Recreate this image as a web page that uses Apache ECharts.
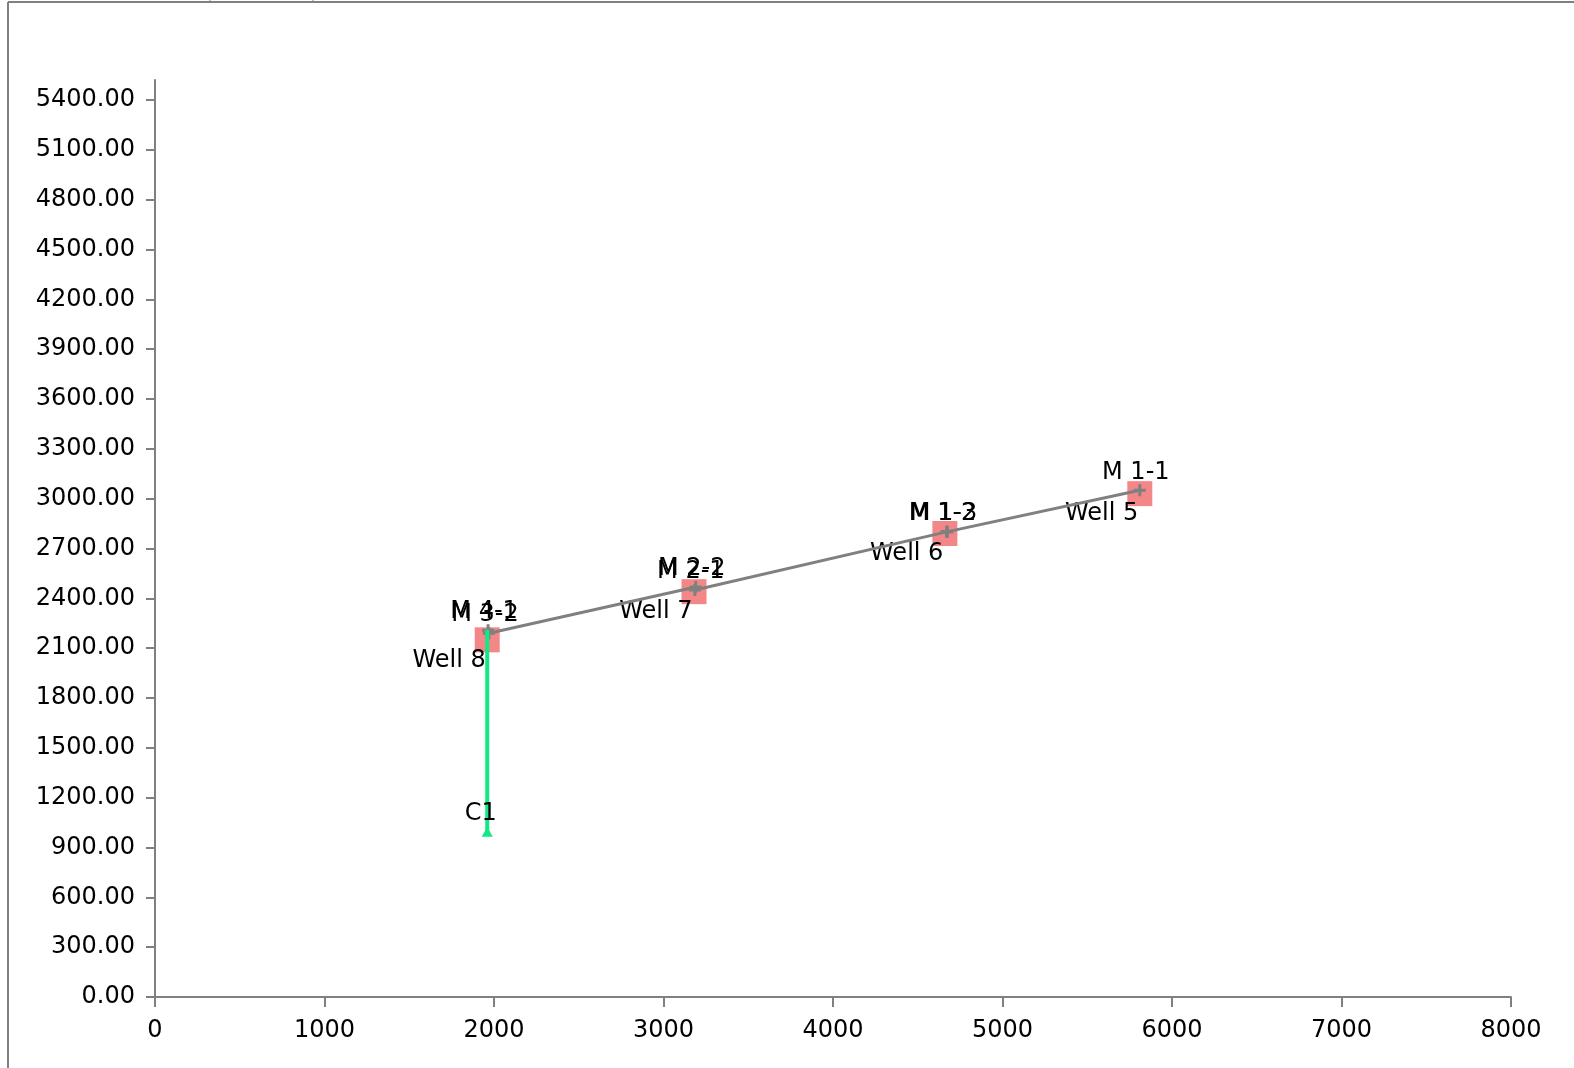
<!DOCTYPE html>
<html>
<head>
<meta charset="utf-8">
<title>Well layout</title>
<script src="https://cdn.jsdelivr.net/npm/echarts@6/dist/echarts.min.js"></script>
<style>
  html, body { margin: 0; padding: 0; background: #ffffff; }
  #chart { width: 1574px; height: 1068px; }
</style>
</head>
<body>
<div id="chart"></div>
<script>
// Wells (square markers)
const wellNames = ['Well 5', 'Well 6', 'Well 7', 'Well 8'];
const wellX = [5810, 4660, 3180, 1960];
const wellY = [3030, 2790, 2440, 2150];

// Pipeline nodes (gray line with cross markers)
const pipeNames = ['M 1-1', 'M 1-2', 'M 1-3', 'M 2-1', 'M 2-2', 'M 3-2', 'M 4-1'];
const pipeX = [5810, 4670, 4675, 3185, 3190, 1970, 1965];
const pipeY = [3050, 2800, 2800, 2450, 2468, 2190, 2208];

// Connector C1 (green line ending in a triangle)
const c1Names = ['C1', ''];
const c1X = [1960, 1960];
const c1Y = [995, 2210];

// Axis ticks
const xTicks = [0, 1000, 2000, 3000, 4000, 5000, 6000, 7000, 8000];
const yTicks = [0, 300, 600, 900, 1200, 1500, 1800, 2100, 2400, 2700, 3000,
                3300, 3600, 3900, 4200, 4500, 4800, 5100, 5400];

const FONT = 'DejaVu Sans';
const AXIS_GRAY = '#808080';

const chart = echarts.init(document.getElementById('chart'), null, { renderer: 'canvas' });

const plusPath = 'path://M4.5,0h3v12h-3zM0,4.5h12v3h-12z';

chart.setOption({
  animation: false,
  backgroundColor: '#ffffff',
  textStyle: { fontFamily: FONT },
  grid: { left: 155, right: 63, top: 80, bottom: 71, containLabel: false },
  xAxis: {
    type: 'value',
    min: xTicks[0],
    max: xTicks[xTicks.length - 1],
    interval: 1000,
    splitLine: { show: false },
    axisLine: { show: true, lineStyle: { color: AXIS_GRAY, width: 2 } },
    axisTick: { show: true, length: 10, lineStyle: { color: AXIS_GRAY, width: 2 } },
    axisLabel: {
      color: '#000', fontFamily: FONT, fontSize: 24, margin: 22,
      formatter: v => String(v)
    }
  },
  yAxis: {
    type: 'value',
    min: 0,
    max: 5520,
    splitLine: { show: false },
    axisLine: { show: true, onZero: false, lineStyle: { color: AXIS_GRAY, width: 2 } },
    axisTick: { show: true, length: 9, customValues: yTicks, lineStyle: { color: AXIS_GRAY, width: 2 } },
    axisLabel: {
      color: '#000', fontFamily: FONT, fontSize: 24, margin: 20,
      padding: [10, 0, 0, 0],
      customValues: yTicks,
      formatter: v => Number(v).toFixed(2)
    }
  },
  series: [
    {
      name: 'Wells',
      type: 'scatter',
      z: 2,
      symbol: 'rect',
      symbolSize: 25,
      itemStyle: { color: '#f38787', opacity: 1 },
      label: {
        show: true,
        position: [11, 33],
        align: 'right',
        verticalAlign: 'middle',
        color: '#000',
        fontFamily: FONT,
        fontSize: 24,
        formatter: p => p.name
      },
      data: wellNames.map((n, i) => ({ name: n, value: [wellX[i], wellY[i]] }))
    },
    {
      name: 'Pipeline',
      type: 'line',
      z: 3,
      symbol: plusPath,
      symbolSize: 12,
      showAllSymbol: true,
      itemStyle: { color: AXIS_GRAY },
      lineStyle: { color: AXIS_GRAY, width: 3 },
      label: {
        show: true,
        position: [2, -12],
        align: 'center',
        verticalAlign: 'middle',
        color: '#000',
        fontFamily: FONT,
        fontSize: 24,
        formatter: p => p.name
      },
      data: pipeNames.map((n, i) => ({ name: n, value: [pipeX[i], pipeY[i]] }))
    },
    {
      name: 'C1',
      type: 'line',
      z: 4,
      lineStyle: { color: '#12e884', width: 4 },
      itemStyle: { color: '#12e884' },
      symbol: 'none',
      data: c1Names.map((n, i) => {
        const item = { name: n, value: [c1X[i], c1Y[i]] };
        if (n) {
          item.symbol = 'triangle';
          item.symbolSize = [11, 10];
          item.label = {
            show: true,
            position: [-1, -13],
            align: 'center',
            verticalAlign: 'middle',
            color: '#000',
            fontFamily: FONT,
            fontSize: 24,
            formatter: p => p.name
          };
        }
        return item;
      })
    }
  ],
  graphic: [
    { type: 'line', silent: true, shape: { x1: 8, y1: 2, x2: 8, y2: 1068 }, style: { stroke: AXIS_GRAY, lineWidth: 2 } },
    { type: 'line', silent: true, shape: { x1: 8, y1: 2, x2: 1574, y2: 2 }, style: { stroke: AXIS_GRAY, lineWidth: 2 } },
    { type: 'line', silent: true, shape: { x1: 210, y1: 0, x2: 210, y2: 3 }, style: { stroke: AXIS_GRAY, lineWidth: 1 } },
    { type: 'line', silent: true, shape: { x1: 313, y1: 0, x2: 313, y2: 3 }, style: { stroke: AXIS_GRAY, lineWidth: 1 } }
  ]
});
</script>
</body>
</html>
